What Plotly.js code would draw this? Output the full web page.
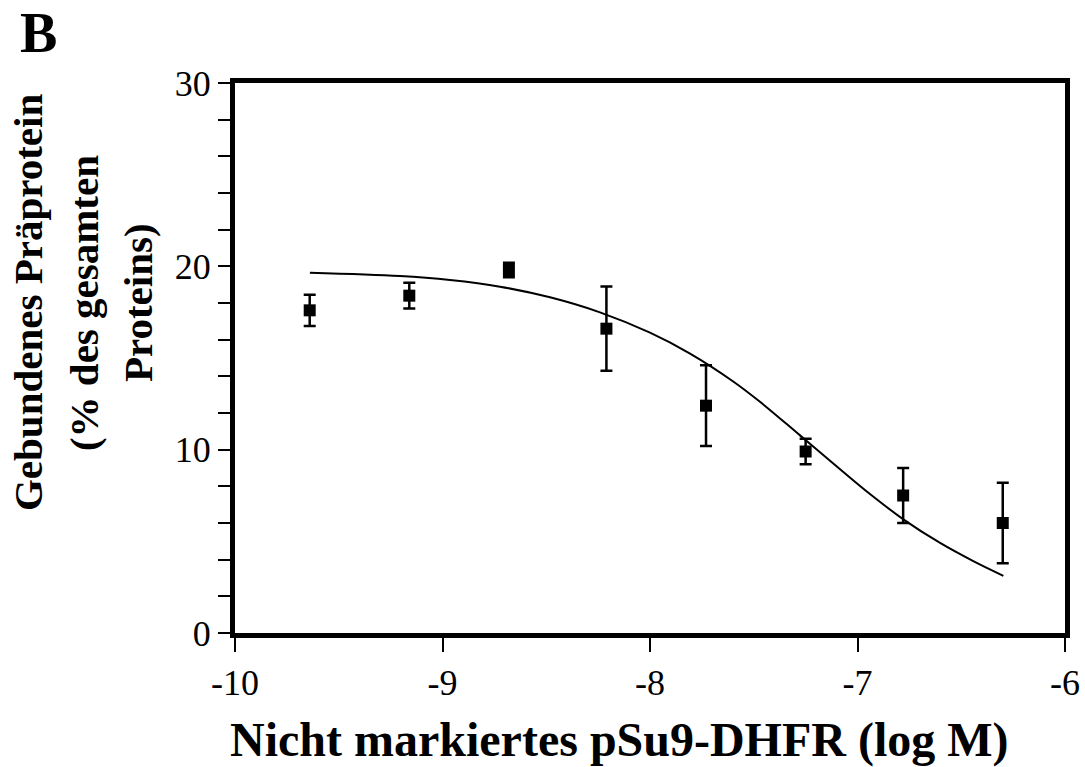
<!DOCTYPE html>
<html>
<head>
<meta charset="utf-8">
<script src="https://cdn.plot.ly/plotly-3.0.1.min.js"></script>
<style>html,body{margin:0;padding:0;background:#fff;}#chart{width:1085px;height:767px;}</style>
</head>
<body>
<div id="chart"></div>
<script>
// Measured data (log M vs % bound)
const logConc = [-9.64, -9.16, -8.68, -8.21, -7.73, -7.25, -6.78, -6.30];
const bound   = [17.6, 18.4, 19.8, 16.6, 12.4, 9.9, 7.5, 6.0];
const errBar  = [0.85, 0.7, 0.4, 2.3, 2.2, 0.7, 1.5, 2.2];

// Fitted curve
const fitX = [-9.639, -9.205, -8.964, -8.723, -8.482, -8.241, -8.0, -7.807, -7.599, -7.470, -7.277, -7.084, -6.940, -6.779, -6.602, -6.442, -6.297];
const fitY = [19.65, 19.47, 19.25, 18.89, 18.31, 17.49, 16.38, 15.24, 13.72, 12.61, 10.78, 8.93, 7.58, 6.20, 4.91, 3.92, 3.12];

const xTicks = [-10, -9, -8, -7, -6];
const xTickText = ['-10', '-9', '-8', '-7', '-6'];
const yTicks = [0, 10, 20, 30];
const yTickText = ['0', '10', '20', '30'];

const serif = "Liberation Serif, Times New Roman, serif";

const traces = [
  {
    x: fitX, y: fitY, type: 'scatter', mode: 'lines',
    line: {color: '#000', width: 2, shape: 'spline', smoothing: 1},
    hoverinfo: 'skip', showlegend: false
  },
  {
    x: logConc, y: bound, type: 'scatter', mode: 'markers',
    marker: {symbol: 'square', size: 12, color: '#000'},
    error_y: {type: 'data', array: errBar, visible: true, color: '#000', thickness: 2.5, width: 6},
    showlegend: false
  }
];

const px2paperX = p => (p - 235) / 830;
const px2paperY = p => (633.3 - p) / 550.6;

const layout = {
  width: 1085, height: 767,
  margin: {l: 235, r: 20, t: 83, b: 134},
  paper_bgcolor: '#fff', plot_bgcolor: '#fff',
  showlegend: false,
  xaxis: {
    range: [-10, -6], tickvals: xTicks, ticktext: xTickText,
    showline: true, linewidth: 5, linecolor: '#000', mirror: true,
    ticks: 'outside', ticklen: 14, tickwidth: 2, tickcolor: '#000',
    showgrid: false, zeroline: false,
    tickfont: {family: serif, size: 36, color: '#000'}
  },
  yaxis: {
    range: [0, 30], tickvals: yTicks, ticktext: yTickText,
    showline: true, linewidth: 5, linecolor: '#000', mirror: true,
    ticks: 'outside', ticklen: 12, tickwidth: 2, tickcolor: '#000',
    minor: {dtick: 2, ticks: 'outside', ticklen: 12, tickwidth: 2, tickcolor: '#000', showgrid: false},
    showgrid: false, zeroline: false,
    tickfont: {family: serif, size: 36, color: '#000'}
  },
  annotations: [
    {text: '<b>B</b>', xref: 'paper', yref: 'paper', x: px2paperX(38), y: px2paperY(33),
     xanchor: 'center', yanchor: 'middle', showarrow: false, font: {family: serif, size: 56, color: '#000'}},
    {text: '<b>Gebundenes Präprotein</b>', xref: 'paper', yref: 'paper', x: px2paperX(28), y: px2paperY(303),
     xanchor: 'center', yanchor: 'middle', textangle: -90, showarrow: false, font: {family: serif, size: 41, color: '#000'}},
    {text: '<b>(% des gesamten</b>', xref: 'paper', yref: 'paper', x: px2paperX(84), y: px2paperY(303),
     xanchor: 'center', yanchor: 'middle', textangle: -90, showarrow: false, font: {family: serif, size: 41, color: '#000'}},
    {text: '<b>Proteins)</b>', xref: 'paper', yref: 'paper', x: px2paperX(138), y: px2paperY(303),
     xanchor: 'center', yanchor: 'middle', textangle: -90, showarrow: false, font: {family: serif, size: 41, color: '#000'}},
    {text: '<b>Nicht markiertes pSu9-DHFR (log M)</b>', xref: 'paper', yref: 'paper', x: px2paperX(619), y: px2paperY(740),
     xanchor: 'center', yanchor: 'middle', showarrow: false, font: {family: serif, size: 48, color: '#000'}}
  ]
};

Plotly.newPlot('chart', traces, layout, {displayModeBar: false, staticPlot: true});
</script>
</body>
</html>
